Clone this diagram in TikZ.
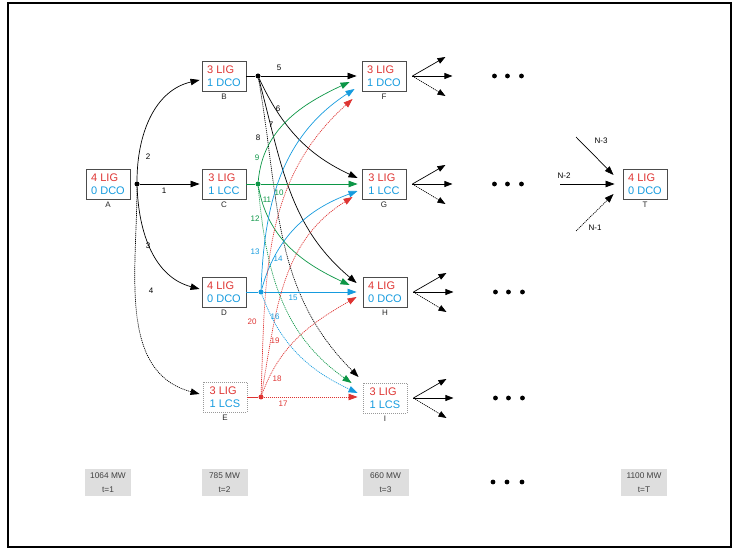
\documentclass[tikz,border=0pt]{standalone}
\usepackage{fontspec}
\setmainfont{Liberation Sans}
\usetikzlibrary{arrows.meta,calc}
\definecolor{cred}{RGB}{222,52,50}
\definecolor{cblue}{RGB}{22,155,222}
\definecolor{cgreen}{RGB}{12,150,70}
\begin{document}
\begin{tikzpicture}[x=1pt,y=1pt,
  state/.style={draw=black!70, line width=0.9pt, minimum width=44pt, minimum height=30pt, inner sep=0pt, align=left, font=\fontsize{11}{12.5}\selectfont},
  lcs/.style={state, draw=black!40, dash pattern=on 1pt off 1pt},
  lbl/.style={font=\fontsize{8}{9}\selectfont, inner sep=0pt, text=black!85},
  el/.style={font=\fontsize{8}{9}\selectfont, inner sep=0pt},
  arr/.style={line width=0.7pt, -{Triangle[length=9pt,width=6.5pt]}},
  farr/.style={line width=0.7pt, -{Triangle[length=8pt,width=6pt]}},
  dotl/.style={dash pattern=on 1.1pt off 0.9pt},
  jdot/.style={circle, fill, inner sep=0pt, minimum size=5pt},
  tbox/.style={fill=black!13, minimum width=46pt, minimum height=27pt, inner sep=0pt, align=center, font=\fontsize{8.3}{13.5}\selectfont, text=black!75}
]
\useasboundingbox (0,0) rectangle (733,549);
\draw[line width=1.3pt] (8,546) rectangle (731,2);

% states
\node[state,label={[lbl,label distance=2.5pt]below:A}] (A) at (108,365) {\textcolor{cred}{4 LIG}\\\textcolor{cblue}{0 DCO}};
\node[state,label={[lbl,label distance=2.5pt]below:B}] (B) at (224,473) {\textcolor{cred}{3 LIG}\\\textcolor{cblue}{1 DCO}};
\node[state,label={[lbl,label distance=2.5pt]below:C}] (C) at (224,365) {\textcolor{cred}{3 LIG}\\\textcolor{cblue}{1 LCC}};
\node[state,label={[lbl,label distance=2.5pt]below:D}] (D) at (224,257) {\textcolor{cred}{4 LIG}\\\textcolor{cblue}{0 DCO}};
\node[lcs,label={[lbl,label distance=2.5pt]below:E}] (E) at (225,152) {\textcolor{cred}{3 LIG}\\\textcolor{cblue}{1 LCS}};
\node[state,label={[lbl,label distance=2.5pt]below:F}] (F) at (384,473) {\textcolor{cred}{3 LIG}\\\textcolor{cblue}{1 DCO}};
\node[state,label={[lbl,label distance=2.5pt]below:G}] (G) at (384,365) {\textcolor{cred}{3 LIG}\\\textcolor{cblue}{1 LCC}};
\node[state,label={[lbl,label distance=2.5pt]below:H}] (H) at (385,257) {\textcolor{cred}{4 LIG}\\\textcolor{cblue}{0 DCO}};
\node[lcs,label={[lbl,label distance=2.5pt]below:I}] (I) at (385,151) {\textcolor{cred}{3 LIG}\\\textcolor{cblue}{1 LCS}};
\node[state,label={[lbl,label distance=2.5pt]below:T}] (T) at (645,365) {\textcolor{cred}{4 LIG}\\\textcolor{cblue}{0 DCO}};

% junction dots
\node[jdot] (a) at (137,365) {};
\node[jdot] (b) at (258,473) {};
\node[jdot,cgreen] (c) at (258,365) {};
\node[jdot,cblue] (d) at (261,257) {};
\node[jdot,cred] (e) at (261,152) {};

% from A
\draw[arr] (a) -- ([xshift=-2pt]C.west);
\draw[arr] (a) to[out=90,in=193] ([shift={(-2,-4)}]B.west);
\draw[arr] (a) to[out=-88,in=165] ([shift={(-2,3)}]D.west);
\draw[arr,dotl] (a) to[out=-90,in=165] ([shift={(-3,3)}]E.west);

% from B
\draw[line width=0.7pt] (B.east) -- (b);
\draw[arr] (b) -- ([xshift=-5pt]F.west);
\draw[arr] (b) to[out=-65,in=155] ([shift={(-4,6)}]G.west);
\draw[arr] (b) to[out=-75,in=140] ([shift={(-6,9)}]H.west);
\draw[arr,dotl] (b) to[out=-80,in=135] ([shift={(-4,21)}]I.west);

% from C
\draw[line width=0.7pt,cgreen] (C.east) -- (c);
\draw[arr,cgreen] (c) to[out=85,in=205] ([shift={(-12,-6)}]F.west);
\draw[arr,cgreen] (c) -- ([xshift=-4pt]G.west);
\draw[arr,cgreen] (c) to[out=-80,in=155] ([shift={(-13,7)}]H.west);
\draw[arr,cgreen,dotl] (c) to[out=-85,in=145] ([shift={(-11,15)}]I.west);

% from D
\draw[line width=0.7pt,cblue] (D.east) -- (d);
\draw[arr,cblue] (d) to[out=88,in=213] ([shift={(-7,-13)}]F.west);
\draw[arr,cblue] (d) to[out=75,in=200] ([shift={(-4,-7)}]G.west);
\draw[arr,cblue] (d) -- ([xshift=-6pt]H.west);
\draw[arr,cblue,dotl] (d) to[out=-70,in=155] ([shift={(-5,5)}]I.west);

% from E
\draw[line width=0.7pt,cred,dotl] (E.east) -- (e);
\draw[arr,cred,dotl] (e) -- ([shift={(-5,1)}]I.west);
\draw[arr,cred,dotl] (e) to[out=70,in=210] ([shift={(-6,-5)}]H.west);
\draw[arr,cred,dotl] (e) to[out=80,in=212] ([shift={(-9,-13)}]G.west);
\draw[arr,cred,dotl] (e) to[out=88,in=222] ([shift={(-9,-23)}]F.west);

% edge labels
\node[el] (l1) at (164,358) {1};
\node[el] (l2) at (148,392) {2};
\node[el] (l3) at (148,303) {3};
\node[el] (l4) at (151,258) {4};
\node[el] (l5) at (279,481) {5};
\node[el] (l6) at (278,440) {6};
\node[el] (l7) at (271,424) {7};
\node[el] (l8) at (258,411) {8};
\node[el,cgreen] (l9) at (257,391) {9};
\node[el,cgreen] (l10) at (279,356) {10};
\node[el,cgreen] (l11) at (267,349) {11};
\node[el,cgreen] (l12) at (255,330) {12};
\node[el,cblue] (l13) at (255,297) {13};
\node[el,cblue] (l14) at (278,290) {14};
\node[el,cblue] (l15) at (293,251) {15};
\node[el,cblue] (l16) at (275,232) {16};
\node[el,cred] (l20) at (252,227) {20};
\node[el,cred] (l19) at (275,208) {19};
\node[el,cred] (l18) at (277,170) {18};
\node[el,cred] (l17) at (283,145) {17};

% fans and ellipses
\foreach \n in {F,G,H,I}{
  \coordinate (\n o) at ([xshift=6pt]\n.east);
  \coordinate (\n u) at ([shift={(39,19)}]\n.east);
  \coordinate (\n m) at ([shift={(46,0)}]\n.east);
  \coordinate (\n d) at ([shift={(39,-20)}]\n.east);
  \draw[farr] (\n o) -- (\n u);
  \draw[farr] (\n o) -- (\n m);
  \draw[farr,dotl] (\n o) -- (\n d);
  \foreach \dx in {88,101,115} \fill ([xshift=\dx pt]\n.east) circle (2.4pt);
}

% into T
\coordinate (n3) at (576,412);
\coordinate (n2) at (560,365);
\coordinate (n1) at (576,318);
\draw[arr] (n3) -- ([shift={(-9,9)}]T.west);
\draw[arr] (n2) -- ([xshift=-8pt]T.west);
\draw[arr,dotl] (n1) -- ([shift={(-9,-10)}]T.west);
\node[el] (ln3) at (601,408) {N-3};
\node[el] (ln2) at (564,373) {N-2};
\node[el] (ln1) at (595,321) {N-1};

% time boxes
\node[tbox] (t1) at (108,66.5) {1064 MW\\t=1};
\node[tbox] (t2) at (224.5,66.5) {785 MW\\t=2};
\node[tbox] (t3) at (385.5,66.5) {660 MW\\t=3};
\node[tbox] (tT) at (644,66.5) {1100 MW\\t=T};
\foreach \x in {493,507,522} \fill (\x,67) circle (2.4pt);
\end{tikzpicture}
\end{document}
